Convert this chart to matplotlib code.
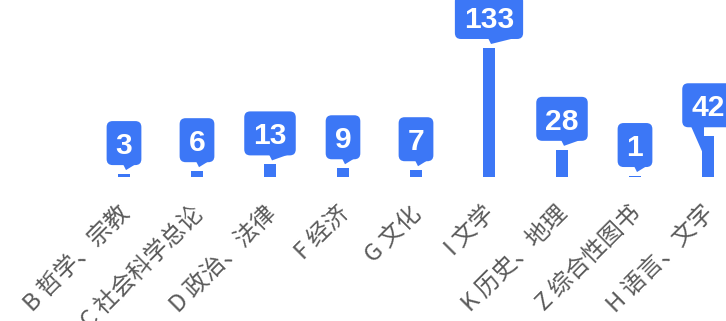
import matplotlib
matplotlib.use("Agg")
import matplotlib.pyplot as plt
from matplotlib.patches import FancyBboxPatch, Polygon
from matplotlib.transforms import IdentityTransform

categories = ["B 哲学、宗教", "C 社会科学总论", "D 政治、法律", "F 经济", "G 文化",
              "I 文学", "K 历史、地理", "Z 综合性图书", "H 语言、文字"]
values = [3, 6, 13, 9, 7, 133, 28, 1, 42]
tail_styles = ["short"] * 8 + ["long"]

BLUE = "#3C77F6"
GRAY = "#5A5A5A"
W, H = 726, 321

fig = plt.figure(figsize=(W / 100, H / 100), dpi=100)
ax = fig.add_axes([0, 0, 1, 1])
ax.set_axis_off()
x0, step = 124, 73
scale = 0.97
base = H - 177
ax.set_xlim(-x0 / step, (W - x0) / step)
ax.set_ylim(-base / scale, (H - base) / scale)

xs = list(range(len(values)))
ax.bar(xs, values, width=12 / step, color=BLUE, zorder=2)

ident = IdentityTransform()
fig.canvas.draw()
renderer = fig.canvas.get_renderer()

for i, (v, cat, ts) in enumerate(zip(values, categories, tail_styles)):
    cx, top = ax.transData.transform((i, v))
    _, by = ax.transData.transform((i, 0))
    t = ax.text(cx, 0, str(v), transform=ident, color="white", fontsize=21.6,
                fontweight="bold", family="Liberation Sans", ha="center",
                va="baseline", zorder=5)
    tw = t.get_window_extent(renderer).width
    bw, bh = tw + 18, 44
    bottom = top + 9
    ctr_y = bottom + bh / 2
    t.set_y(ctr_y - 10.7)
    box = FancyBboxPatch((cx - bw / 2, bottom), bw, bh,
                         boxstyle="round,pad=0,rounding_size=6",
                         transform=ident, facecolor=BLUE, edgecolor="none", zorder=4)
    ax.add_patch(box)
    if ts == "short":
        pts = [(cx - 1, bottom + 1), (cx + 2, bottom - 5), (cx + bw / 2 - 4, bottom + 2)]
    else:
        pts = [(cx - 17, bottom + 1), (cx - 4, bottom + 1), (cx - 4, bottom - 14),
               (cx - 6, bottom - 24)]
    ax.add_patch(Polygon(pts, closed=True, transform=ident, facecolor=BLUE,
                         edgecolor="none", zorder=4))
    ax.text(cx + 2, by - 33, cat, transform=ident, rotation=45, rotation_mode="anchor",
            ha="right", va="center", fontsize=17, color=GRAY,
            family=["Noto Sans CJK SC", "DejaVu Sans"], zorder=3)

fig.savefig("out.png", dpi=100, facecolor="white")
